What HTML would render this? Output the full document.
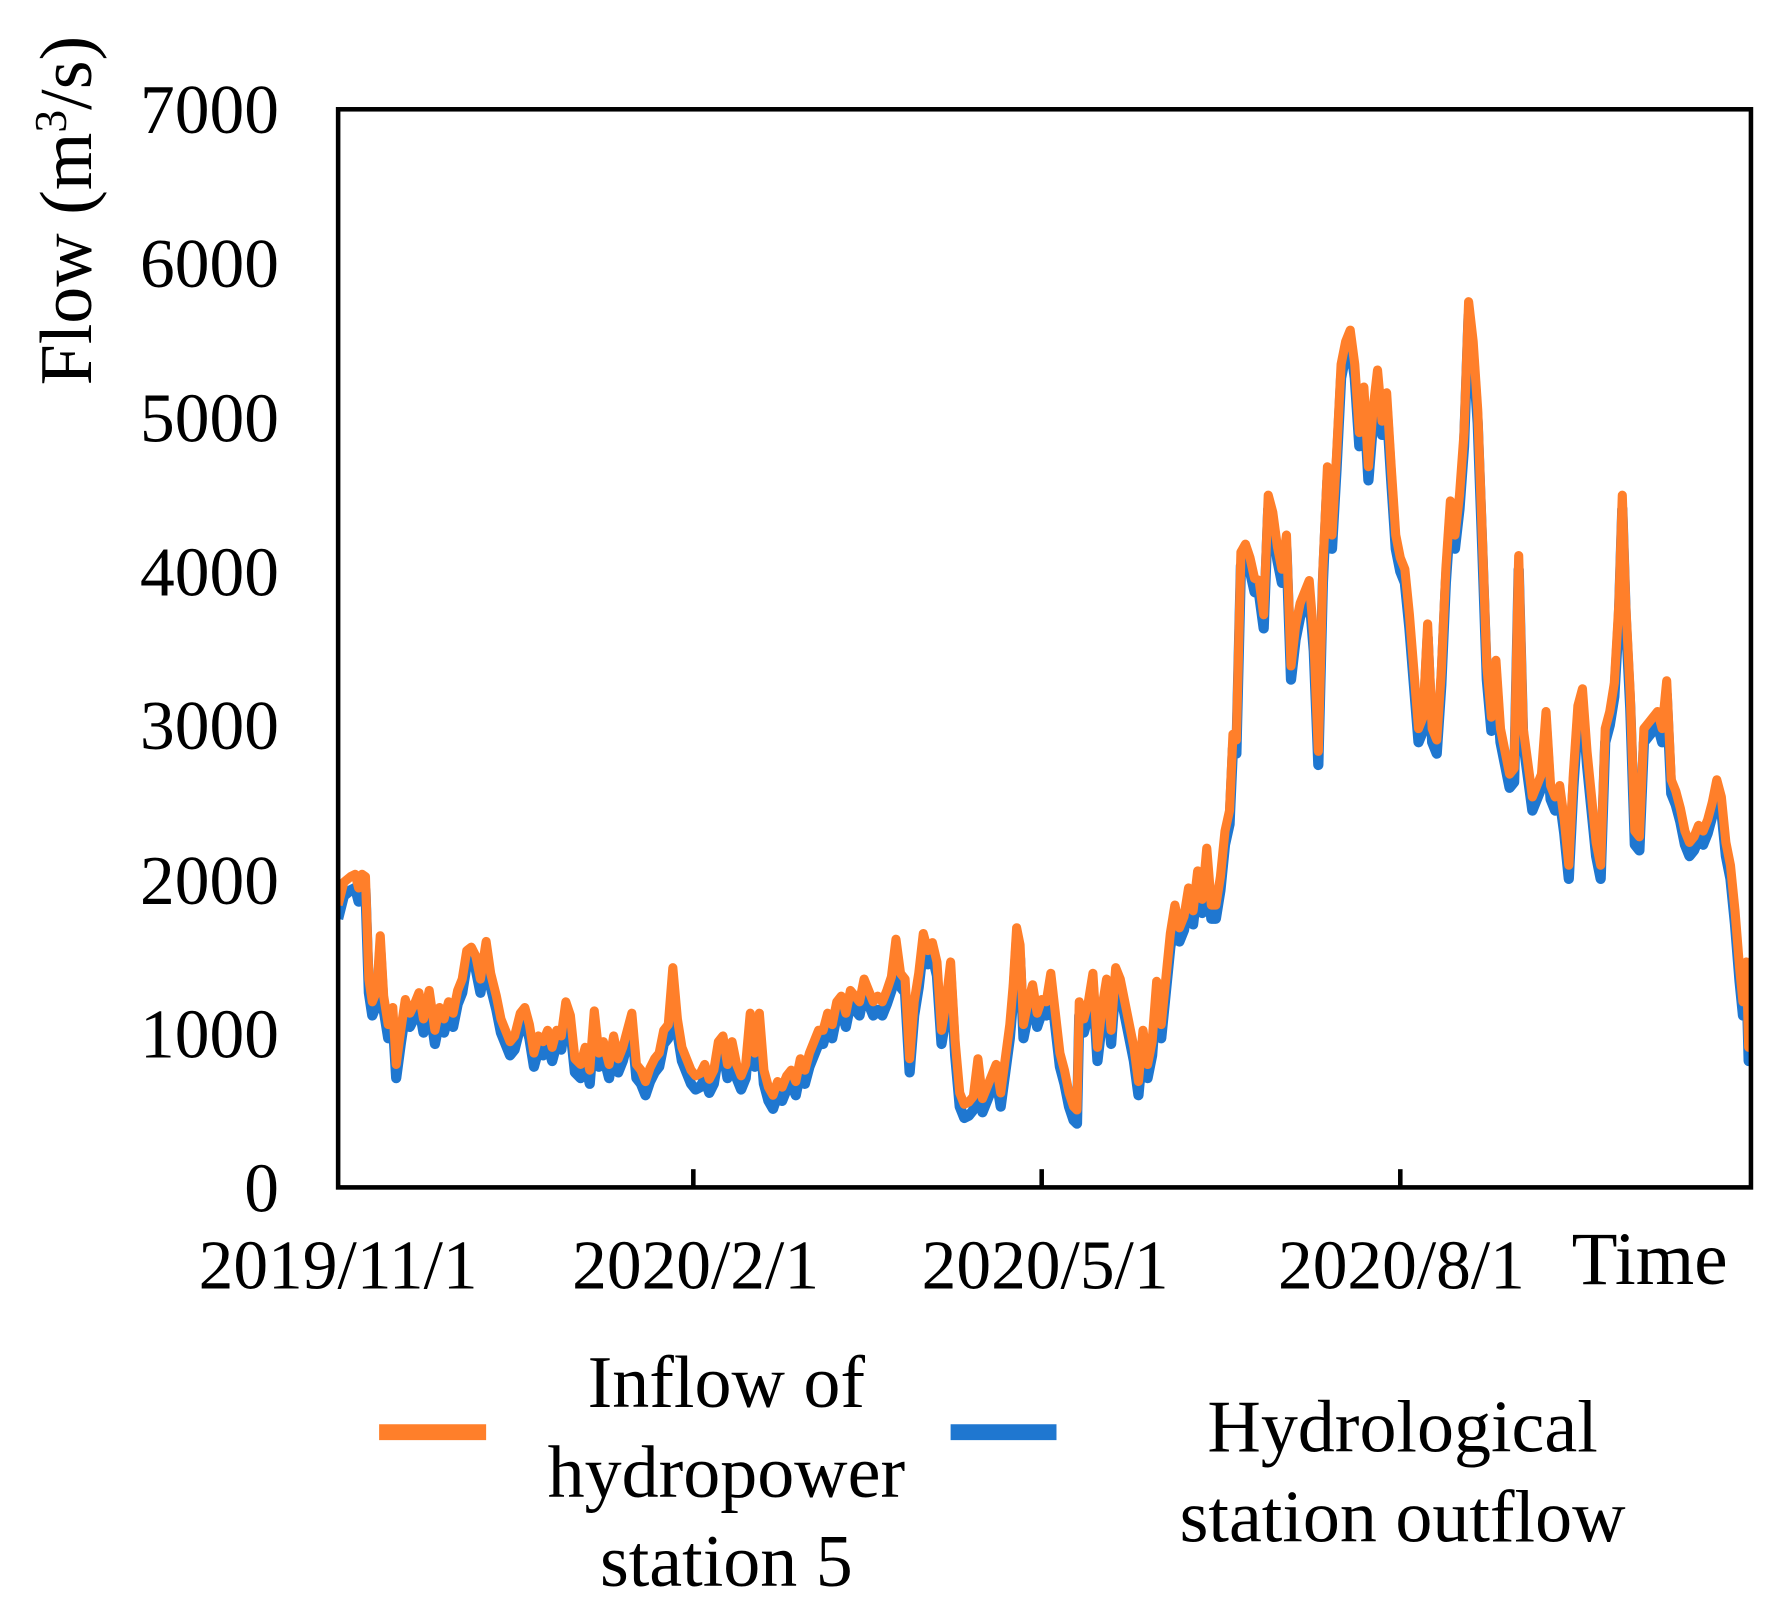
<!DOCTYPE html>
<html><head><meta charset="utf-8"><style>html,body{margin:0;padding:0;background:#fff}svg{display:block}</style></head>
<body>
<svg width="1776" height="1615" viewBox="0 0 1560 1418.6" xmlns="http://www.w3.org/2000/svg" font-family="'Liberation Serif', serif">
<rect width="1560" height="1419" fill="#fff"/>
<defs>
<polyline id="s" fill="none" stroke-linejoin="round" points="297,795 302,775 308,770 312,768 315,780 318,768 321,770 324,860 327,880 331,870 334,822 337,875 341,900 345,885 348,935 352,905 356,878 360,890 364,882 368,872 372,895 377,870 382,905 386,885 390,895 394,880 398,890 402,870 406,860 410,835 414,832 418,840 422,860 427,827 431,855 436,875 440,895 444,905 448,915 452,910 457,890 461,885 465,900 469,925 473,910 477,915 481,905 485,920 489,905 493,910 497,880 501,892 505,930 510,935 514,920 518,940 522,888 526,925 530,915 535,935 539,910 543,930 547,920 551,905 555,890 559,935 563,940 567,950 571,938 575,930 579,925 583,905 587,900 591,850 595,895 599,920 603,930 607,940 611,945 615,943 619,935 623,948 627,940 631,915 635,910 639,935 643,915 647,935 651,945 655,935 659,890 663,925 667,890 671,940 675,955 679,962 683,950 687,955 691,945 695,940 699,950 703,930 707,940 711,925 715,915 719,905 723,905 727,890 731,900 735,880 739,875 743,890 747,870 751,875 755,880 759,860 763,870 767,880 771,875 775,880 779,870 783,858 787,825 791,855 795,860 799,930 803,880 807,855 811,820 815,835 819,828 823,845 827,905 831,880 835,845 839,915 843,960 847,970 851,968 855,963 859,930 863,965 867,955 871,945 875,935 879,960 883,930 887,900 890,865 893,815 896,830 899,900 903,880 907,865 911,890 915,878 919,880 923,855 927,890 931,925 935,940 939,960 943,972 946,975 948,880 952,895 956,880 960,855 964,920 968,885 972,860 976,905 980,850 984,860 988,880 992,900 996,920 1000,950 1004,905 1008,935 1012,915 1016,862 1020,900 1024,860 1028,820 1032,795 1036,815 1040,805 1044,780 1048,800 1052,765 1056,790 1060,745 1064,795 1068,795 1072,770 1076,730 1080,712 1083,645 1086,650 1090,485 1094,478 1098,490 1102,508 1106,510 1110,540 1114,435 1118,450 1122,480 1126,500 1130,470 1134,585 1138,550 1142,530 1146,520 1150,510 1154,560 1158,660 1162,500 1166,410 1170,470 1174,400 1178,320 1182,300 1186,290 1190,320 1194,380 1198,340 1202,410 1206,360 1210,325 1214,370 1218,345 1222,410 1226,470 1230,490 1234,500 1238,540 1242,590 1246,640 1250,630 1254,548 1258,640 1262,650 1266,590 1270,500 1274,440 1278,470 1282,435 1286,380 1290,265 1294,300 1298,360 1302,470 1306,585 1310,630 1314,580 1318,640 1322,660 1326,680 1330,675 1334,488 1338,640 1342,670 1346,700 1350,690 1354,680 1358,625 1362,690 1366,700 1370,690 1374,720 1378,760 1382,680 1386,620 1390,605 1394,660 1398,700 1402,740 1406,760 1410,640 1414,625 1418,600 1422,530 1425,435 1428,530 1432,610 1436,730 1440,735 1444,640 1448,635 1452,630 1456,625 1460,640 1464,598 1468,685 1472,695 1476,710 1480,730 1484,740 1488,735 1492,725 1496,730 1500,720 1504,705 1508,685 1512,700 1516,740 1520,760 1524,800 1528,850 1531,880 1534,845 1536,920 1538,890"/>
<clipPath id="c"><rect x="297" y="96" width="1241" height="947"/></clipPath>
</defs>
<g clip-path="url(#c)">
<use href="#s" stroke="#1f77d0" stroke-width="9" transform="translate(0,12)"/>
<use href="#s" stroke="#ff7f2a" stroke-width="8"/>
</g>
<rect x="297" y="96" width="1241" height="947" fill="none" stroke="#000" stroke-width="4"/>
<g stroke="#000" stroke-width="4">
<line x1="609" y1="1043" x2="609" y2="1027"/><line x1="915" y1="1043" x2="915" y2="1027"/><line x1="1230" y1="1043" x2="1230" y2="1027"/>
</g>
<g font-size="61" text-anchor="end" fill="#000">
<text x="245" y="117">7000</text><text x="245" y="252">6000</text><text x="245" y="388">5000</text><text x="245" y="523">4000</text><text x="245" y="658">3000</text><text x="245" y="794">2000</text><text x="245" y="929">1000</text><text x="245" y="1064">0</text>
</g>
<g font-size="61" text-anchor="middle" fill="#000">
<text x="297" y="1132">2019/11/1</text><text x="611" y="1132">2020/2/1</text><text x="918" y="1132">2020/5/1</text><text x="1231" y="1132">2020/8/1</text>
</g>
<text x="1449" y="1128" font-size="66" text-anchor="middle">Time</text>
<text transform="translate(80,185) rotate(-90)" font-size="65" text-anchor="middle">Flow (m<tspan font-size="40" dy="-22">3</tspan><tspan dy="22">/s)</tspan></text>
<line x1="333" y1="1258" x2="427" y2="1258" stroke="#ff7f2a" stroke-width="14"/>
<line x1="835" y1="1258" x2="928" y2="1258" stroke="#1f77d0" stroke-width="14"/>
<g font-size="65" text-anchor="middle" fill="#000">
<text x="638" y="1236">Inflow of</text><text x="638" y="1315">hydropower</text><text x="638" y="1393">station 5</text>
<text x="1232" y="1275">Hydrological</text><text x="1232" y="1354">station outflow</text>
</g>
</svg>
</body></html>
